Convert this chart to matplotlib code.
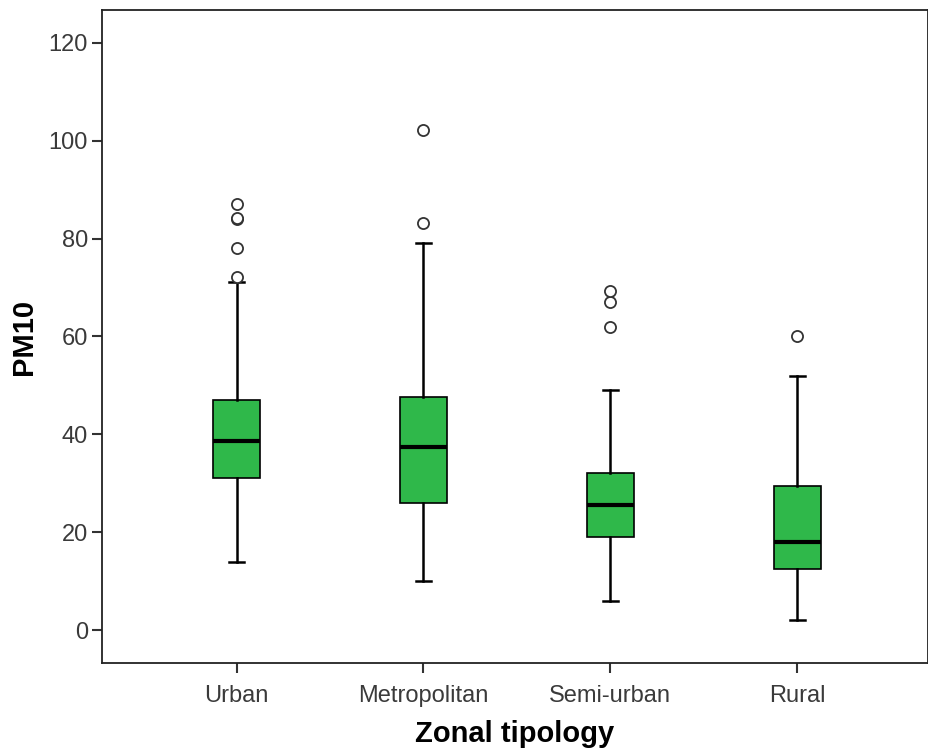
import matplotlib

matplotlib.use("Agg")
import matplotlib.pyplot as plt  # noqa: E402

# Datos (estadisticos del boxplot por tipologia zonal)
categories = ["Urban", "Metropolitan", "Semi-urban", "Rural"]
q1 = [31.0, 26.0, 19.0, 12.6]
medians = [38.6, 37.5, 25.5, 18.0]
q3 = [47.0, 47.6, 32.1, 29.5]
whisker_low = [14.0, 10.0, 6.0, 2.0]
whisker_high = [71.2, 79.0, 49.0, 52.0]
outliers = [
    [72.2, 78.1, 84.0, 84.3, 87.1],
    [83.2, 102.1],
    [62.0, 67.0, 69.2],
    [60.0],
]

COLOR_BOX = "#2fb84a"
COLOR_TEXT = "#3a3a3a"

stats = [
    {
        "label": cat,
        "q1": a,
        "med": m,
        "q3": b,
        "whislo": lo,
        "whishi": hi,
        "fliers": fl,
    }
    for cat, a, m, b, lo, hi, fl in zip(
        categories, q1, medians, q3, whisker_low, whisker_high, outliers
    )
]

fig = plt.figure(figsize=(9.29, 7.51), dpi=100)
ax = fig.add_axes([0.1098, 0.1172, 0.8892, 0.8695])

ax.bxp(
    stats,
    positions=range(len(categories)),
    widths=0.25,
    patch_artist=True,
    boxprops=dict(facecolor=COLOR_BOX, edgecolor="black", linewidth=1.2),
    medianprops=dict(color="black", linewidth=3),
    whiskerprops=dict(color="black", linewidth=1.8),
    capprops=dict(color="black", linewidth=1.8),
    capwidths=0.08,
    flierprops=dict(
        marker="o",
        markersize=8,
        markerfacecolor="white",
        markeredgecolor="#333333",
        markeredgewidth=1.3,
        linestyle="none",
    ),
)

ax.set_xlim(-0.72, 3.7)
ax.set_ylim(-6.7, 126.7)
ax.set_yticks([0, 20, 40, 60, 80, 100, 120])
ax.set_xticks(range(len(categories)))
ax.set_xticklabels(categories)

for lab in ax.get_xticklabels() + ax.get_yticklabels():
    lab.set_fontfamily("Liberation Sans")
    lab.set_fontsize(17)
    lab.set_color(COLOR_TEXT)

ax.tick_params(axis="both", length=7, width=1.5, color="#333333")
ax.tick_params(axis="x", pad=9)
ax.tick_params(axis="y", pad=3)
ax.set_xlabel("Zonal tipology", fontsize=21, fontweight="bold",
              fontfamily="Liberation Sans", labelpad=9)
ax.set_ylabel("PM10", fontsize=21, fontweight="bold",
              fontfamily="Liberation Sans", labelpad=8)

for sp in ax.spines.values():
    sp.set_linewidth(1.3)
    sp.set_color("#222222")

fig.savefig("out.png", dpi=100)
plt.close(fig)
